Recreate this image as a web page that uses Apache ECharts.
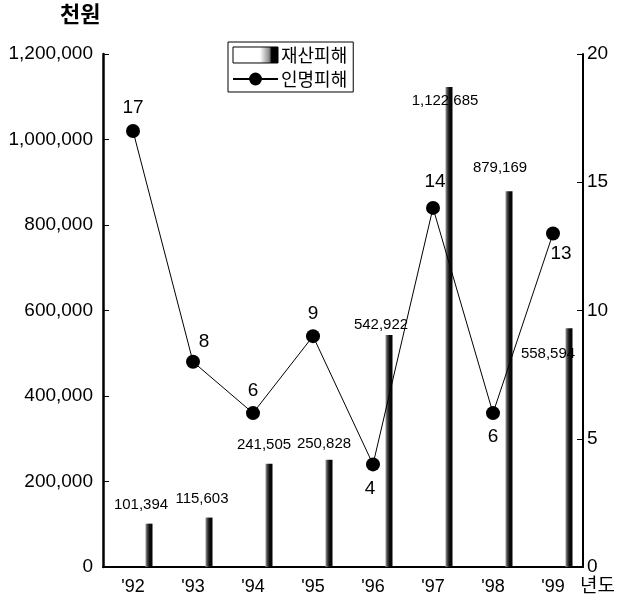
<!DOCTYPE html>
<html>
<head>
<meta charset="utf-8">
<script src="https://cdn.jsdelivr.net/npm/echarts@6/dist/echarts.min.js"></script>
<style>
  html, body { margin: 0; padding: 0; background: #fff; }
  #chart { width: 632px; height: 605px; }
</style>
</head>
<body>
<div id="chart"></div>
<script>
// 년도
const years = ["'92", "'93", "'94", "'95", "'96", "'97", "'98", "'99"]
// 재산피해 (천원)
const propertyDamage = [101394, 115603, 241505, 250828, 542922, 1122685, 879169, 558594]
// 인명피해 (명)
const casualties = [17, 8, 6, 9, 4, 14, 6, 13]
// 축 눈금
const leftMax = 1200000
const leftStep = 200000
const rightMax = 20
const rightStep = 5

// label offsets, tuned by eye against the scan
const barLabelOffset = [[-8, -6], [-7, -6], [-5, -6], [-5, -3], [-8, 2], [-4, 26], [-9, -11], [-21, 38]]
const lineLabelOffset = [[0, -23], [11, -20], [0, -22], [0, -22], [-3, 24], [2, -26], [0, 24], [8, 20]]

const FONT = "'Liberation Sans', 'Noto Sans CJK KR', sans-serif"
const KFONT = "'Noto Sans CJK KR', 'Liberation Sans', sans-serif"

const chart = echarts.init(document.getElementById('chart'))

const barColor = new echarts.graphic.LinearGradient(0, 0, 1, 0, [
  { offset: 0, color: '#9a9a9a' },
  { offset: 0.3, color: '#444' },
  { offset: 0.55, color: '#111' },
  { offset: 1, color: '#000' }
])

const option = {
  animation: false,
  backgroundColor: '#fff',
  grid: {
    left: 103,
    right: 49,
    top: 54,
    bottom: 38,
    containLabel: false
  },
  legend: {
    orient: 'vertical',
    left: 228,
    top: 42,
    padding: [4, 6, 4, 4],
    itemGap: 6,
    itemWidth: 45,
    itemHeight: 16,
    borderColor: '#000',
    borderWidth: 1,
    borderRadius: 0,
    textStyle: { fontFamily: KFONT, fontSize: 18, color: '#000', padding: [0, 0, 0, -2] },
    data: [
      {
        name: '재산피해',
        icon: 'rect',
        itemStyle: {
          color: new echarts.graphic.LinearGradient(0, 0, 1, 0, [
            { offset: 0, color: '#fff' },
            { offset: 0.6, color: '#fff' },
            { offset: 0.8, color: '#888' },
            { offset: 0.85, color: '#000' },
            { offset: 1, color: '#000' }
          ]),
          borderColor: '#000',
          borderWidth: 1
        }
      },
      { name: '인명피해' }
    ]
  },
  xAxis: {
    type: 'category',
    data: years,
    boundaryGap: true,
    axisLine: { lineStyle: { color: '#000', width: 2 } },
    axisTick: { inside: true, length: 6, lineStyle: { color: '#000', width: 1 } },
    axisLabel: { color: '#000', fontFamily: FONT, fontSize: 18, margin: 11 },
    splitLine: { show: false }
  },
  yAxis: [
    {
      type: 'value',
      min: 0,
      max: leftMax,
      interval: leftStep,
      position: 'left',
      axisLine: { show: true, lineStyle: { color: '#000', width: 2.5 } },
      axisTick: { show: true, inside: true, length: 6, lineStyle: { color: '#000' } },
      axisLabel: {
        color: '#000',
        fontFamily: FONT,
        fontSize: 19,
        margin: 10,
        formatter: v => v.toLocaleString('en-US')
      },
      splitLine: { show: false }
    },
    {
      type: 'value',
      min: 0,
      max: rightMax,
      interval: rightStep,
      position: 'right',
      axisLine: { show: true, lineStyle: { color: '#000', width: 2 } },
      axisTick: { show: true, inside: true, length: 6, lineStyle: { color: '#000' } },
      axisLabel: { color: '#000', fontFamily: FONT, fontSize: 19, margin: 4 },
      splitLine: { show: false }
    }
  ],
  graphic: [
    {
      type: 'text',
      left: 60,
      top: 3,
      style: { text: '천원', font: "bold 22px 'Noto Sans CJK KR'", fill: '#000' }
    },
    {
      type: 'text',
      left: 580,
      top: 575,
      style: { text: '년도', font: "19px 'Noto Sans CJK KR'", fill: '#000' }
    }
  ],
  series: [
    {
      // spacer so the real bar sits right of the category centre
      name: '_gap',
      type: 'bar',
      barWidth: 7,
      barGap: '357%',
      data: years.map(() => null),
      silent: true
    },
    {
      name: '재산피해',
      type: 'bar',
      barWidth: 7,
      itemStyle: { color: barColor },
      data: propertyDamage.map((v, i) => ({
        value: v,
        label: {
          show: true,
          position: 'top',
          distance: 5,
          offset: barLabelOffset[i],
          color: '#000',
          fontFamily: "'Liberation Sans Narrow', 'Liberation Sans', sans-serif",
          fontSize: 15,
          formatter: p => p.value.toLocaleString('en-US')
        }
      }))
    },
    {
      name: '인명피해',
      type: 'line',
      yAxisIndex: 1,
      symbol: 'circle',
      symbolSize: 14,
      lineStyle: { color: '#000', width: 1 },
      itemStyle: { color: '#000' },
      data: casualties.map((v, i) => ({
        value: v,
        label: {
          show: true,
          position: 'inside',
          offset: lineLabelOffset[i],
          color: '#000',
          fontFamily: FONT,
          fontSize: 19
        }
      }))
    }
  ]
}

chart.setOption(option)
</script>
</body>
</html>
